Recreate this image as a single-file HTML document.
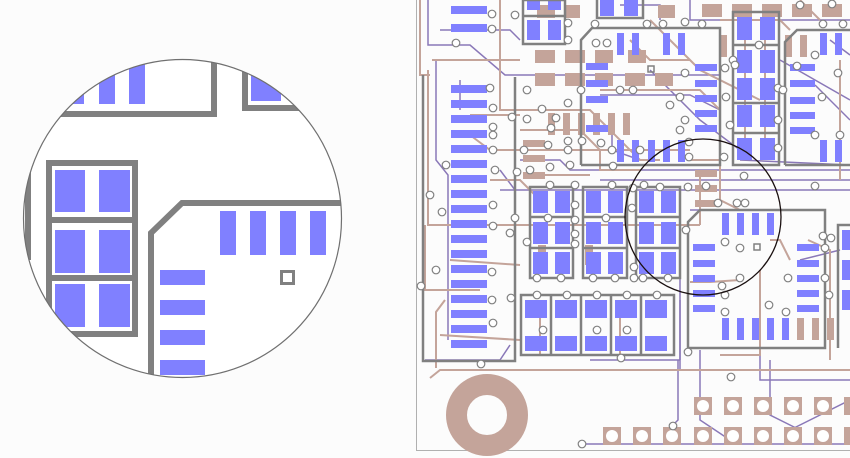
<!DOCTYPE html>
<html><head><meta charset="utf-8"><style>
html,body{margin:0;padding:0;background:#fcfcfc;}
svg{display:block}
</style></head><body>
<svg width="850" height="458" viewBox="0 0 850 458" xmlns="http://www.w3.org/2000/svg">
<rect width="850" height="458" fill="#fcfcfc"/>
<defs><clipPath id="cc"><circle cx="182.5" cy="218.5" r="159"/></clipPath></defs>
<circle cx="182.5" cy="218.5" r="159" fill="#fff"/>
<g clip-path="url(#cc)">
 <g fill="#8080ff">
  <rect x="70" y="60" width="14" height="44"/><rect x="99" y="60" width="16" height="44"/><rect x="129" y="60" width="16" height="44"/>
  <rect x="251" y="60" width="30" height="41"/>
  <rect x="55" y="170" width="30" height="42"/><rect x="99" y="170" width="31" height="42"/>
  <rect x="55" y="230" width="30" height="43"/><rect x="99" y="230" width="31" height="43"/>
  <rect x="55" y="284" width="30" height="43"/><rect x="99" y="284" width="31" height="43"/>
  <rect x="220" y="211" width="16" height="44"/><rect x="250" y="211" width="16" height="44"/><rect x="280" y="211" width="16" height="44"/><rect x="310" y="211" width="16" height="44"/>
  <rect x="160" y="270" width="45" height="15"/><rect x="160" y="300" width="45" height="15"/><rect x="160" y="330" width="45" height="15"/><rect x="160" y="360" width="45" height="15"/>
 </g>
 <g fill="none" stroke="#808080" stroke-width="6">
  <polyline points="20,114 214,114 214,50"/>
  <polyline points="245,50 245,108 320,108"/>
  <rect x="49" y="163" width="86" height="171"/>
  <line x1="49" y1="220" x2="135" y2="220"/><line x1="49" y1="278" x2="135" y2="278"/>
  <line x1="28" y1="160" x2="28" y2="260"/>
  <polyline points="151,380 151,233 182,203 350,203"/>
 </g>
 <rect x="281.5" y="271.5" width="12" height="12" fill="none" stroke="#808080" stroke-width="3"/>
</g>
<circle cx="182.5" cy="218.5" r="159" fill="none" stroke="#707070" stroke-width="1.2"/>

<line x1="416.5" y1="0" x2="416.5" y2="450.5" stroke="#b0b0b0" stroke-width="1"/>
<line x1="416" y1="450.5" x2="850" y2="450.5" stroke="#b0b0b0" stroke-width="1"/>

<g fill="none" stroke="#8a78b8" stroke-width="1.5">
 <polyline points="428,0 428,45 470,45 505,75 720,75"/>
 <polyline points="436,60 436,160 448,175 448,340"/>
 <polyline points="440,30 510,30 520,40"/>
 <polyline points="425,360 500,360 510,345"/>
 <line x1="500" y1="190" x2="850" y2="190"/>
 <line x1="600" y1="180" x2="850" y2="180"/>
 <polyline points="520,160 560,160 570,170 850,170"/>
 <polyline points="690,0 690,20 850,20"/>
 <polyline points="600,95 690,95 720,110"/>
 <polyline points="650,70 700,120 740,150"/>
 <polyline points="780,60 850,100"/>
 <polyline points="815,85 850,120"/>
 <polyline points="680,300 680,370 850,370"/>
 <polyline points="700,350 700,420 730,440"/>
 <polyline points="760,350 760,380 850,380"/>
 <polyline points="680,225 680,360"/>
 <polyline points="590,360 680,360"/>
 <polyline points="678,360 678,420 673,425 673,435"/>
 <polyline points="582,444 850,444"/>
 <polyline points="770,360 770,415 800,430"/>
 <polyline points="790,430 850,400"/>
 <polyline points="460,80 460,110"/>
 <polyline points="500,170 515,190 515,280"/>
 <polyline points="612,135 612,150 640,160"/>
 <polyline points="830,40 850,55"/>
 <polyline points="620,5 660,5 660,20"/>
 <polyline points="740,160 850,165"/>
 <polyline points="800,260 840,250"/>
 <polyline points="690,210 810,210"/>
</g>

<g fill="none" stroke="#c4a49a" stroke-width="2">
 <polyline points="420,0 420,75 430,75"/>
 <polyline points="428,70 428,225 470,225 700,225"/>
 <polyline points="432,60 520,60"/>
 <polyline points="425,225 425,290 480,290"/>
 <polyline points="500,0 500,110 590,110 640,160 660,160"/>
 <polyline points="520,130 580,130 600,150 600,170 640,170"/>
 <polyline points="430,378 440,370 850,370"/>
 <polyline points="436,368 436,312 445,300"/>
 <polyline points="600,90 700,90 720,110"/>
 <polyline points="540,175 590,175"/>
 <polyline points="470,135 490,150 690,150"/>
 <polyline points="470,115 520,115"/>
 <polyline points="700,175 700,225"/>
 <polyline points="690,160 720,160 720,200 740,210"/>
 <polyline points="720,20 780,20 790,30"/>
 <polyline points="800,0 820,20"/>
 <polyline points="745,40 745,160"/>
 <polyline points="765,40 765,160"/>
 <polyline points="650,20 700,70 760,100"/>
 <polyline points="630,40 650,60 690,60"/>
 <polyline points="540,300 540,355 610,355"/>
 <polyline points="720,355 760,355 760,270"/>
 <polyline points="770,240 780,240 790,260"/>
 <polyline points="808,240 830,250 830,360"/>
 <polyline points="620,300 620,360"/>
 <polyline points="440,335 520,340"/>
 <polyline points="690,282 710,282 740,280"/>
 <polyline points="490,180 520,180 540,200"/>
 <polyline points="840,60 840,180"/>
 <polyline points="450,260 520,265"/>
</g>

<g fill="#c4a49a">
 <rect x="537" y="5" width="18" height="13"/><rect x="565" y="5" width="15" height="13"/><rect x="658" y="5" width="17" height="13"/>
 <rect x="702" y="4" width="20" height="13"/><rect x="732" y="4" width="20" height="13"/><rect x="762" y="4" width="20" height="13"/><rect x="792" y="4" width="20" height="13"/><rect x="822" y="4" width="20" height="13"/>
 <rect x="535" y="50" width="20" height="13"/><rect x="565" y="50" width="20" height="13"/><rect x="595" y="50" width="18" height="13"/><rect x="628" y="50" width="18" height="13"/>
 <rect x="535" y="73" width="20" height="13"/><rect x="565" y="73" width="20" height="13"/><rect x="595" y="73" width="18" height="13"/><rect x="625" y="73" width="20" height="13"/><rect x="655" y="73" width="18" height="13"/>
 <rect x="548" y="113" width="7" height="22"/><rect x="563" y="113" width="7" height="22"/><rect x="578" y="113" width="7" height="22"/><rect x="593" y="113" width="7" height="22"/><rect x="608" y="113" width="7" height="22"/><rect x="623" y="113" width="7" height="22"/>
 <rect x="523" y="140" width="22" height="7"/><rect x="523" y="155" width="22" height="7"/><rect x="523" y="172" width="22" height="7"/>
 <rect x="695" y="170" width="22" height="7"/><rect x="695" y="185" width="22" height="7"/><rect x="695" y="200" width="22" height="7"/>
 <rect x="720" y="35" width="7" height="22"/><rect x="785" y="35" width="7" height="22"/><rect x="800" y="35" width="7" height="22"/>
 <rect x="797" y="318" width="7" height="22"/><rect x="812" y="318" width="7" height="22"/><rect x="827" y="318" width="7" height="22"/>
 <rect x="538" y="245" width="8" height="20"/><rect x="585" y="245" width="8" height="20"/>
</g>

<g fill="#8080ff">
 <rect x="451" y="6" width="36" height="8"/><rect x="451" y="24" width="36" height="8"/>
 <rect x="451" y="85" width="36" height="8"/><rect x="451" y="100" width="36" height="8"/><rect x="451" y="115" width="36" height="8"/><rect x="451" y="130" width="36" height="8"/><rect x="451" y="145" width="36" height="8"/><rect x="451" y="160" width="36" height="8"/><rect x="451" y="175" width="36" height="8"/><rect x="451" y="190" width="36" height="8"/><rect x="451" y="205" width="36" height="8"/><rect x="451" y="220" width="36" height="8"/><rect x="451" y="235" width="36" height="8"/><rect x="451" y="250" width="36" height="8"/><rect x="451" y="265" width="36" height="8"/><rect x="451" y="280" width="36" height="8"/><rect x="451" y="295" width="36" height="8"/><rect x="451" y="310" width="36" height="8"/><rect x="451" y="325" width="36" height="8"/><rect x="451" y="340" width="36" height="8"/>
 <rect x="527" y="0" width="13" height="10"/><rect x="548" y="0" width="13" height="10"/>
 <rect x="527" y="20" width="13" height="20"/><rect x="548" y="20" width="13" height="20"/>
 <rect x="600" y="0" width="14" height="16"/><rect x="624" y="0" width="14" height="16"/>
 <rect x="617" y="33" width="7" height="22"/><rect x="632" y="33" width="7" height="22"/><rect x="663" y="33" width="7" height="22"/><rect x="678" y="33" width="7" height="22"/>
 <rect x="617" y="140" width="7" height="22"/><rect x="632" y="140" width="7" height="22"/><rect x="648" y="140" width="7" height="22"/><rect x="663" y="140" width="7" height="22"/><rect x="678" y="140" width="7" height="22"/>
 <rect x="695" y="64" width="22" height="7"/><rect x="695" y="80" width="22" height="7"/><rect x="695" y="95" width="22" height="7"/><rect x="695" y="110" width="22" height="7"/><rect x="695" y="125" width="22" height="7"/>
 <rect x="586" y="63" width="22" height="7"/><rect x="586" y="80" width="22" height="7"/><rect x="586" y="96" width="22" height="7"/><rect x="586" y="125" width="22" height="7"/>
 <rect x="737" y="17" width="15" height="23"/><rect x="760" y="17" width="15" height="23"/>
 <rect x="737" y="50" width="15" height="23"/><rect x="760" y="50" width="15" height="23"/>
 <rect x="737" y="78" width="15" height="22"/><rect x="760" y="78" width="15" height="22"/>
 <rect x="737" y="105" width="15" height="22"/><rect x="760" y="105" width="15" height="22"/>
 <rect x="737" y="138" width="15" height="22"/><rect x="760" y="138" width="15" height="22"/>
 <rect x="790" y="64" width="25" height="7"/><rect x="790" y="80" width="25" height="7"/><rect x="790" y="97" width="25" height="7"/><rect x="790" y="112" width="25" height="7"/><rect x="790" y="127" width="25" height="7"/>
 <rect x="820" y="33" width="7" height="22"/><rect x="835" y="33" width="7" height="22"/>
 <rect x="820" y="140" width="7" height="22"/><rect x="835" y="140" width="7" height="22"/>
 <rect x="533" y="191" width="15" height="22"/><rect x="555" y="191" width="15" height="22"/>
 <rect x="533" y="222" width="15" height="22"/><rect x="555" y="222" width="15" height="22"/>
 <rect x="533" y="252" width="15" height="22"/><rect x="555" y="252" width="15" height="22"/>
 <rect x="586" y="191" width="15" height="22"/><rect x="608" y="191" width="15" height="22"/>
 <rect x="586" y="222" width="15" height="22"/><rect x="608" y="222" width="15" height="22"/>
 <rect x="586" y="252" width="15" height="22"/><rect x="608" y="252" width="15" height="22"/>
 <rect x="639" y="191" width="15" height="22"/><rect x="661" y="191" width="15" height="22"/>
 <rect x="639" y="222" width="15" height="22"/><rect x="661" y="222" width="15" height="22"/>
 <rect x="639" y="252" width="15" height="22"/><rect x="661" y="252" width="15" height="22"/>
 <rect x="525" y="300" width="22" height="18"/><rect x="555" y="300" width="22" height="18"/><rect x="585" y="300" width="22" height="18"/><rect x="615" y="300" width="22" height="18"/><rect x="645" y="300" width="22" height="18"/>
 <rect x="525" y="336" width="22" height="15"/><rect x="555" y="336" width="22" height="15"/><rect x="585" y="336" width="22" height="15"/><rect x="615" y="336" width="22" height="15"/><rect x="645" y="336" width="22" height="15"/>
 <rect x="722" y="213" width="7" height="22"/><rect x="737" y="213" width="7" height="22"/><rect x="752" y="213" width="7" height="22"/><rect x="767" y="213" width="7" height="22"/>
 <rect x="693" y="244" width="22" height="7"/><rect x="693" y="260" width="22" height="7"/><rect x="693" y="275" width="22" height="7"/><rect x="693" y="290" width="22" height="7"/><rect x="693" y="305" width="22" height="7"/>
 <rect x="722" y="318" width="7" height="22"/><rect x="737" y="318" width="7" height="22"/><rect x="752" y="318" width="7" height="22"/><rect x="767" y="318" width="7" height="22"/><rect x="782" y="318" width="7" height="22"/>
 <rect x="797" y="244" width="22" height="7"/><rect x="797" y="260" width="22" height="7"/><rect x="797" y="275" width="22" height="7"/><rect x="797" y="290" width="22" height="7"/><rect x="797" y="305" width="22" height="7"/>
 <rect x="842" y="230" width="8" height="20"/><rect x="842" y="260" width="8" height="20"/><rect x="842" y="290" width="8" height="20"/>
</g>

<g fill="none" stroke="#808080" stroke-width="2.5">
 <rect x="523" y="0" width="42" height="44"/>
 <line x1="523" y1="16" x2="565" y2="16"/>
 <polyline points="597,0 597,18 643,18 643,0"/>
 <polyline points="581,165 581,40 592,28 720,28 720,165 581,165"/>
 <rect x="733" y="12" width="46" height="153"/>
 <line x1="733" y1="45" x2="779" y2="45"/><line x1="733" y1="103" x2="779" y2="103"/><line x1="733" y1="133" x2="779" y2="133"/>
 <polyline points="785,165 785,42 797,30 850,30"/>
 <line x1="785" y1="165" x2="850" y2="165"/>
 <rect x="530" y="187" width="43" height="91"/><line x1="530" y1="217" x2="573" y2="217"/><line x1="530" y1="248" x2="573" y2="248"/>
 <rect x="583" y="187" width="44" height="91"/><line x1="583" y1="217" x2="627" y2="217"/><line x1="583" y1="248" x2="627" y2="248"/>
 <rect x="636" y="187" width="44" height="91"/><line x1="636" y1="217" x2="680" y2="217"/><line x1="636" y1="248" x2="680" y2="248"/>
 <rect x="521" y="295" width="153" height="60"/>
 <line x1="551" y1="295" x2="551" y2="355"/><line x1="581" y1="295" x2="581" y2="355"/><line x1="611" y1="295" x2="611" y2="355"/><line x1="641" y1="295" x2="641" y2="355"/>
 <polyline points="688,348 688,222 700,210 825,210 825,348 688,348"/>
 <polyline points="838,348 838,225 850,225"/>
 <polyline points="423,75 423,361 515,361 515,77"/>
</g>
<rect x="648" y="66" width="6" height="6" fill="none" stroke="#808080" stroke-width="1.5"/>
<rect x="754" y="244" width="6" height="6" fill="none" stroke="#808080" stroke-width="1.5"/>

<circle cx="487" cy="415" r="30.5" fill="none" stroke="#c4a49a" stroke-width="21"/>

<g fill="#c4a49a">
 <rect x="694" y="397" width="18" height="18"/><rect x="724" y="397" width="18" height="18"/><rect x="754" y="397" width="18" height="18"/><rect x="784" y="397" width="18" height="18"/><rect x="814" y="397" width="18" height="18"/><rect x="844" y="397" width="18" height="18"/>
 <rect x="603" y="427" width="18" height="18"/><rect x="633" y="427" width="18" height="18"/><rect x="663" y="427" width="18" height="18"/><rect x="694" y="427" width="18" height="18"/><rect x="724" y="427" width="18" height="18"/><rect x="754" y="427" width="18" height="18"/><rect x="784" y="427" width="18" height="18"/><rect x="814" y="427" width="18" height="18"/><rect x="844" y="427" width="18" height="18"/>
</g>
<g fill="#fff">
 <circle cx="703" cy="406" r="6"/><circle cx="733" cy="406" r="6"/><circle cx="763" cy="406" r="6"/><circle cx="793" cy="406" r="6"/><circle cx="823" cy="406" r="6"/>
 <circle cx="612" cy="436" r="6"/><circle cx="642" cy="436" r="6"/><circle cx="672" cy="436" r="6"/><circle cx="703" cy="436" r="6"/><circle cx="733" cy="436" r="6"/><circle cx="763" cy="436" r="6"/><circle cx="793" cy="436" r="6"/><circle cx="823" cy="436" r="6"/>
</g>

<g fill="#fff" stroke="#808080" stroke-width="1.2">
 <circle cx="492" cy="14" r="3.8"/><circle cx="492" cy="29" r="3.8"/><circle cx="456" cy="43" r="3.8"/><circle cx="515" cy="15" r="3.8"/><circle cx="568" cy="23" r="3.8"/><circle cx="568" cy="40" r="3.8"/>
 <circle cx="595" cy="24" r="3.8"/><circle cx="647" cy="24" r="3.8"/><circle cx="663" cy="24" r="3.8"/><circle cx="685" cy="22" r="3.8"/><circle cx="596" cy="43" r="3.8"/><circle cx="607" cy="43" r="3.8"/>
 <circle cx="527" cy="90" r="3.8"/><circle cx="568" cy="103" r="3.8"/><circle cx="581" cy="90" r="3.8"/><circle cx="620" cy="90" r="3.8"/><circle cx="633" cy="90" r="3.8"/><circle cx="685" cy="73" r="3.8"/><circle cx="680" cy="97" r="3.8"/><circle cx="685" cy="120" r="3.8"/><circle cx="670" cy="105" r="3.8"/>
 <circle cx="551" cy="128" r="3.8"/><circle cx="542" cy="109" r="3.8"/><circle cx="568" cy="141" r="3.8"/><circle cx="582" cy="141" r="3.8"/><circle cx="556" cy="118" r="3.8"/><circle cx="512" cy="117" r="3.8"/><circle cx="527" cy="119" r="3.8"/>
 <circle cx="490" cy="88" r="3.8"/><circle cx="493" cy="108" r="3.8"/><circle cx="493" cy="127" r="3.8"/><circle cx="493" cy="135" r="3.8"/><circle cx="493" cy="150" r="3.8"/><circle cx="446" cy="165" r="3.8"/><circle cx="495" cy="170" r="3.8"/><circle cx="430" cy="195" r="3.8"/><circle cx="442" cy="212" r="3.8"/><circle cx="493" cy="205" r="3.8"/><circle cx="493" cy="226" r="3.8"/><circle cx="436" cy="270" r="3.8"/><circle cx="421" cy="286" r="3.8"/><circle cx="492" cy="272" r="3.8"/><circle cx="492" cy="300" r="3.8"/><circle cx="493" cy="323" r="3.8"/><circle cx="511" cy="298" r="3.8"/><circle cx="481" cy="364" r="3.8"/>
 <circle cx="548" cy="145" r="3.8"/><circle cx="568" cy="150" r="3.8"/><circle cx="524" cy="150" r="3.8"/><circle cx="530" cy="170" r="3.8"/><circle cx="550" cy="167" r="3.8"/><circle cx="570" cy="165" r="3.8"/>
 <circle cx="601" cy="143" r="3.8"/><circle cx="613" cy="166" r="3.8"/><circle cx="612" cy="150" r="3.8"/><circle cx="640" cy="150" r="3.8"/><circle cx="689" cy="142" r="3.8"/><circle cx="689" cy="157" r="3.8"/><circle cx="680" cy="130" r="3.8"/>
 <circle cx="517" cy="172" r="3.8"/><circle cx="550" cy="185" r="3.8"/><circle cx="575" cy="185" r="3.8"/><circle cx="612" cy="185" r="3.8"/><circle cx="644" cy="185" r="3.8"/><circle cx="660" cy="187" r="3.8"/><circle cx="688" cy="187" r="3.8"/>
 <circle cx="515" cy="218" r="3.8"/><circle cx="510" cy="233" r="3.8"/><circle cx="527" cy="242" r="3.8"/><circle cx="575" cy="205" r="3.8"/><circle cx="575" cy="220" r="3.8"/><circle cx="575" cy="234" r="3.8"/><circle cx="575" cy="244" r="3.8"/><circle cx="548" cy="218" r="3.8"/><circle cx="606" cy="218" r="3.8"/><circle cx="632" cy="208" r="3.8"/><circle cx="633" cy="188" r="3.8"/>
 <circle cx="537" cy="278" r="3.8"/><circle cx="561" cy="278" r="3.8"/><circle cx="593" cy="278" r="3.8"/><circle cx="615" cy="278" r="3.8"/><circle cx="634" cy="267" r="3.8"/><circle cx="634" cy="278" r="3.8"/><circle cx="643" cy="278" r="3.8"/><circle cx="668" cy="278" r="3.8"/>
 <circle cx="537" cy="295" r="3.8"/><circle cx="567" cy="295" r="3.8"/><circle cx="597" cy="295" r="3.8"/><circle cx="627" cy="295" r="3.8"/><circle cx="657" cy="295" r="3.8"/><circle cx="543" cy="330" r="3.8"/><circle cx="597" cy="330" r="3.8"/><circle cx="627" cy="330" r="3.8"/><circle cx="621" cy="358" r="3.8"/>
 <circle cx="686" cy="230" r="3.8"/><circle cx="718" cy="203" r="3.8"/><circle cx="737" cy="203" r="3.8"/><circle cx="745" cy="203" r="3.8"/><circle cx="744" cy="176" r="3.8"/><circle cx="706" cy="186" r="3.8"/>
 <circle cx="725" cy="242" r="3.8"/><circle cx="740" cy="248" r="3.8"/><circle cx="740" cy="278" r="3.8"/><circle cx="722" cy="286" r="3.8"/><circle cx="725" cy="295" r="3.8"/><circle cx="725" cy="312" r="3.8"/><circle cx="769" cy="305" r="3.8"/><circle cx="786" cy="312" r="3.8"/><circle cx="788" cy="278" r="3.8"/><circle cx="823" cy="236" r="3.8"/><circle cx="831" cy="238" r="3.8"/><circle cx="825" cy="248" r="3.8"/><circle cx="825" cy="278" r="3.8"/><circle cx="829" cy="295" r="3.8"/>
 <circle cx="688" cy="352" r="3.8"/><circle cx="731" cy="377" r="3.8"/><circle cx="582" cy="444" r="3.8"/><circle cx="673" cy="426" r="3.8"/><circle cx="815" cy="186" r="3.8"/><circle cx="815" cy="55" r="3.8"/>
 <circle cx="733" cy="60" r="3.8"/><circle cx="726" cy="97" r="3.8"/><circle cx="730" cy="125" r="3.8"/><circle cx="724" cy="157" r="3.8"/><circle cx="735" cy="65" r="3.8"/><circle cx="778" cy="88" r="3.8"/><circle cx="778" cy="120" r="3.8"/><circle cx="778" cy="148" r="3.8"/><circle cx="783" cy="90" r="3.8"/>
 <circle cx="797" cy="66" r="3.8"/><circle cx="822" cy="97" r="3.8"/><circle cx="815" cy="135" r="3.8"/><circle cx="840" cy="135" r="3.8"/><circle cx="838" cy="73" r="3.8"/><circle cx="823" cy="24" r="3.8"/><circle cx="843" cy="24" r="3.8"/><circle cx="832" cy="4" r="3.8"/>
 <circle cx="702" cy="24" r="3.8"/><circle cx="725" cy="68" r="3.8"/><circle cx="759" cy="45" r="3.8"/><circle cx="800" cy="5" r="3.8"/>
</g>

<circle cx="703" cy="217" r="78" fill="none" stroke="#1a1010" stroke-width="1.3"/>
</svg>
</body></html>
